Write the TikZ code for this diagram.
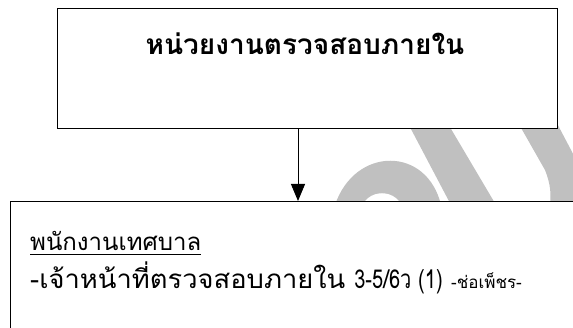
\documentclass[tikz,border=0pt]{standalone}
\usepackage{fontspec}
\newfontfamily\thaifont[Script=Thai]{Loma}
\newfontfamily\thaiwide[Script=Thai,FakeStretch=1.05]{Loma}
\usetikzlibrary{arrows.meta}
\definecolor{wm}{HTML}{C0C0C0}
\tikzset{
  boxstyle/.style={draw=black, line width=1.2pt, fill=white, inner sep=0pt},
  txt/.style={inner sep=0pt, font=\thaifont},
  wmark/.style={fill=wm, draw=none},
  conn/.style={draw=black, line width=1pt, -{Triangle[width=14pt,length=17pt]}}
}
\begin{document}
\begin{tikzpicture}[x=1pt,y=-1pt]
\clip (0,0) rectangle (573,328);
\fill[white] (0,0) rectangle (573,328);
% watermark
\fill[wmark] (335,205) .. controls (355,146) and (427,146) .. (441,205) -- cycle;
\fill[white] (360,212) .. controls (365,187) and (399,187) .. (404,212) -- cycle;
\fill[wmark] (402,112) -- (441,112) -- (496,205) -- (451,205) -- cycle;
\fill[wmark] (512,112) -- (551,112) -- (600,205) -- (550,205)
   .. controls (551,195) and (551,185) .. (545,170) -- cycle;
% boxes
\node[boxstyle, minimum width=500pt, minimum height=120pt, anchor=north west] (unit) at (57,8) {};
\node[boxstyle, minimum width=600pt, minimum height=160pt, anchor=north west] (staff) at (10,201) {};
\coordinate (ax) at (298,0);
\draw[conn] (unit.south -| ax) -- (staff.north -| ax);
% texts
\node[txt, anchor=base, font=\thaifont\bfseries\fontsize{28}{31}\selectfont] (title) at (305,55) {หน่วยงานตรวจสอบภายใน};
\node[txt, anchor=base west, font=\thaifont\fontsize{24}{27}\selectfont] (l1) at (30,251) {พนักงานเทศบาล};
\draw[line width=1pt] ([yshift=-3.5pt]l1.base west) -- ([yshift=-3.5pt]l1.base east);
\node[txt, anchor=base west, font=\thaiwide\fontsize{26}{29}\selectfont] (l2) at (30,289) {-เจ้าหน้าที่ตรวจสอบภายใน\hspace{9pt}{\thaifont\addfontfeature{FakeStretch=0.77}3-5/6ว (1)}};
\node[txt, anchor=base west, font=\thaifont\fontsize{17}{20}\selectfont] (l3) at ([xshift=8pt]l2.base east) {-ช่อเพ็ชร-};
\end{tikzpicture}
\end{document}
